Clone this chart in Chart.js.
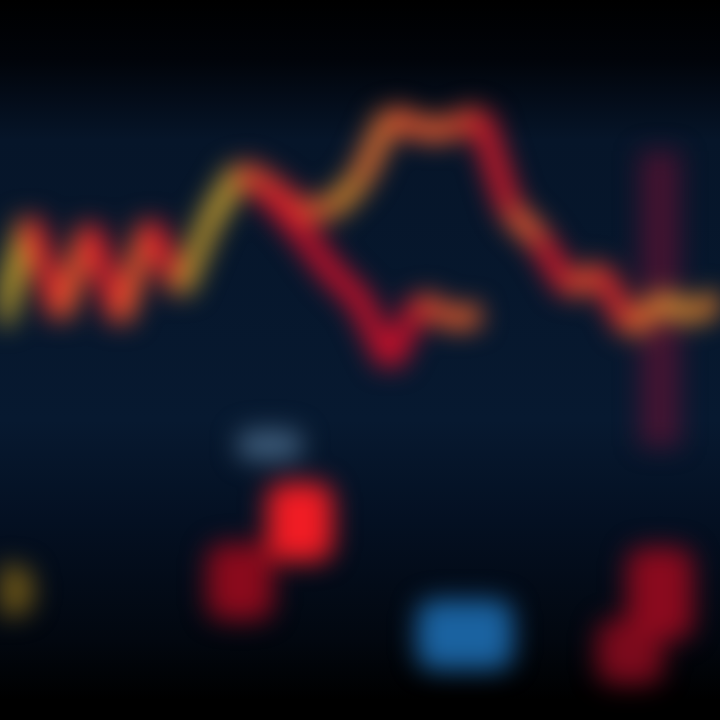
<!DOCTYPE html>
<html lang="en">
<head>
  <meta charset="UTF-8">
  <title>Price chart</title>
  <style>
    /* page */
    html, body { margin: 0; padding: 0; }
    body { width: 720px; height: 720px; overflow: hidden;
      background: linear-gradient(to bottom, #000000 0px, #01040a 60px, #061529 140px, #071930 420px, #041022 520px, #02070f 640px, #000000 700px); }
    .chart-container { position: relative; width: 720px; height: 720px; }
    canvas { filter: blur(13px); }
  </style>
</head>
<body>
  <div class="chart-container"><canvas id="chart"></canvas></div>

  <script src="https://cdn.jsdelivr.net/npm/chart.js"></script>
  <script>
    // data
    const labels = ['1','2','3','4','5','6','7','8','9','10','11','12','13','14','15','16','17','18','19','20','21','22','23','24','25'];
    const price = [55, 69.5, 56, 68.5, 55.5, 69, 59.5, 69.4, 76.4, 74.3, 70.8, 70.8, 75, 84, 82, 82, 84, 70.8, 66.7, 59.7, 62.5, 54.2, 58.3, 56.3, 58.3];
    const price2 = [null, null, null, null, null, null, null, null, 76.4, 72.9, 68.1, 62.5, 58.3, 49.5, 58.3, 55.6, 56.3, null, null, null, null, null, null, null, null];
    const priceColors = ['#c8a42c','#dc262a','#e8562c','#d8202a','#e8562c','#d8202a','#b8922c','#c9a030','#e0442c','#d82a2a','#e05a2c','#d8862c','#e07030','#f05a30','#f06030','#e84a2c','#d81a2a','#f05a30','#d81a2a','#e8502c','#e02a2a','#e0702c','#d89030','#d87a2c'];
    const price2Colors = ['#d0102a','#d0102a','#d0102a','#d0102a','#d0102a','#c8102a','#e0502c','#e8602c','#d8802c'];
    const volume = [[14.5, 21.5], null, null, null, null, null, null, null, [13.9, 24.5], [36.1, 40.3], [22, 33], null, null, null, null, [7, 16.7], [7, 16.7], null, null, null, null, [5, 14], [11.1, 24]];
    const volumeColors = ['#6a5418','#000','#000','#000','#000','#000','#000','#000','#8a0a1c','#3e5c7a','#f01c24','#000','#000','#000','#000','#1a62a0','#1a62a0','#000','#000','#000','#000','#7a0a1c','#8a0a1e'];
    const signal = [null, null, null, null, null, null, null, null, null, null, null, null, null, null, null, null, null, null, null, null, null, null, [38, 79], null, null];

    const ctx = document.getElementById('chart').getContext('2d');
    new Chart(ctx, {
      data: {
        labels,
        datasets: [
          { type: 'line', data: price, borderWidth: 22, pointRadius: 0, tension: 0, order: 1,
            segment: { borderColor: c => priceColors[c.p0DataIndex] } },
          { type: 'line', data: price2, borderWidth: 22, pointRadius: 0, tension: 0, order: 2, spanGaps: false,
            segment: { borderColor: c => price2Colors[c.p0DataIndex - 8] } },
          { type: 'bar', data: volume, backgroundColor: volumeColors, grouped: false, barPercentage: 2.2, categoryPercentage: 1, borderRadius: 18, borderSkipped: false, order: 3 },
          { type: 'bar', data: signal, backgroundColor: 'rgba(110,16,52,0.6)', grouped: false, barPercentage: 1.3, categoryPercentage: 1, order: 4 }
        ]
      },
      options: {
        responsive: true, maintainAspectRatio: false, animation: false,
        layout: { padding: 0 },
        scales: {
          x: { display: false, offset: false },
          y: { display: false, min: 0, max: 100 }
        },
        plugins: { legend: { display: false }, tooltip: { enabled: false } }
      }
    });
  </script>
</body>
</html>
